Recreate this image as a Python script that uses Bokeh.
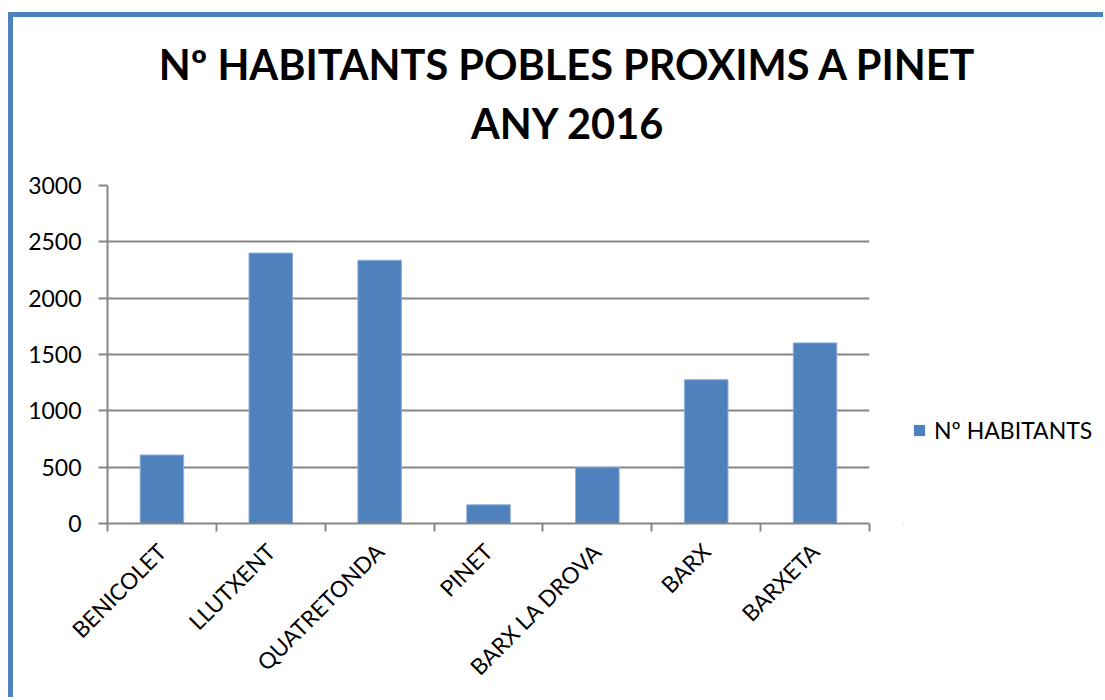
import math
from bokeh.plotting import figure
from bokeh.layouts import column, row
from bokeh.models import (Range1d, FixedTicker, CustomJSTickFormatter, Label,
                          Legend, LegendItem, ColumnDataSource)
from bokeh.embed import file_html
from bokeh.resources import INLINE

# ---- data ----
categories = ["BENICOLET", "LLUTXENT", "QUATRETONDA", "PINET",
              "BARX LA DROVA", "BARX", "BARXETA"]
habitants = [608, 2400, 2336, 166, 500, 1276, 1603]
series_name = "Nº HABITANTS"
title_line1 = "Nº HABITANTS POBLES PROXIMS A PINET"
title_line2 = "ANY 2016"
y_ticks = [0, 500, 1000, 1500, 2000, 2500, 3000]

n = len(categories)
centers = [i + 0.5 for i in range(n)]
bounds = list(range(n + 1))
source = ColumnDataSource(data=dict(x=centers, top=habitants, name=categories))

BLUE = "#4F81BD"
EDGE = "#8FAEDA"
GRAY = "#868686"
FONT = "Lato"

TOTAL_W = 1090
TITLE_H = 150
MAIN_W, MAIN_H = 890, 530
LEG_W = TOTAL_W - MAIN_W


def bare(fig):
    fig.outline_line_color = None
    fig.background_fill_color = "white"
    fig.border_fill_color = "white"
    fig.min_border = 0
    fig.min_border_left = fig.min_border_right = 0
    fig.min_border_top = fig.min_border_bottom = 0
    fig.grid.visible = False
    return fig


# ---- title panel ----
pt = bare(figure(width=TOTAL_W, height=TITLE_H, output_backend="svg",
                 toolbar_location=None, x_range=Range1d(0, TOTAL_W),
                 y_range=Range1d(0, TITLE_H), x_axis_location=None,
                 y_axis_location=None))
for txt, yb in ((title_line1, TITLE_H - 46), (title_line2, TITLE_H - 105)):
    pt.add_layout(Label(x=554.5, y=yb, text=txt, text_align="center",
                        text_baseline="alphabetic", text_font=FONT,
                        text_font_style="bold", text_font_size="41.5px",
                        text_color="black"))

# ---- main chart ----
p = figure(width=MAIN_W, height=MAIN_H, output_backend="svg",
           toolbar_location=None, x_range=Range1d(0, n),
           y_range=Range1d(0, 3000),
           min_border_left=94, min_border_top=18,
           min_border_right=34, min_border_bottom=174)
p.outline_line_color = None
p.background_fill_color = "white"
p.border_fill_color = "white"

p.vbar(x="x", top="top", width=0.4, source=source, fill_color=BLUE,
       line_color=EDGE, line_width=1)

xa = p.xaxis[0]
xa.ticker = FixedTicker(ticks=centers, minor_ticks=bounds)
xa.formatter = CustomJSTickFormatter(args=dict(labels=categories),
                                     code="return labels[Math.floor(tick)];")
xa.major_tick_out = 0
xa.major_tick_in = 0
xa.minor_tick_out = 8
xa.minor_tick_in = 0
xa.minor_tick_line_color = GRAY
xa.minor_tick_line_width = 2
xa.axis_line_color = GRAY
xa.axis_line_width = 2
xa.major_label_orientation = math.pi / 4
xa.major_label_standoff = 16
xa.major_label_text_font = FONT
xa.major_label_text_font_size = "22.5px"
xa.major_label_text_color = "black"

ya = p.yaxis[0]
ya.ticker = FixedTicker(ticks=y_ticks)
ya.minor_tick_line_color = None
ya.major_tick_out = 9
ya.major_tick_in = 0
ya.major_tick_line_color = GRAY
ya.major_tick_line_width = 2
ya.axis_line_color = GRAY
ya.axis_line_width = 2
ya.major_label_standoff = 17
ya.major_label_text_font = FONT
ya.major_label_text_font_size = "23px"
ya.major_label_text_color = "black"

p.xgrid.grid_line_color = None
p.ygrid.grid_line_color = GRAY
p.ygrid.grid_line_width = 2

# ---- legend panel (its bars are the same data, kept far out of view) ----
pl = bare(figure(width=LEG_W, height=MAIN_H, output_backend="svg",
                 toolbar_location=None, x_range=Range1d(1000, 1001),
                 y_range=Range1d(90000, 90001), x_axis_location=None,
                 y_axis_location=None))
swatch = pl.vbar(x="x", top="top", width=0.4, source=source, fill_color=BLUE,
                 line_color=None)
legend = Legend(items=[LegendItem(label=series_name, renderers=[swatch])],
                location=(9, 79), orientation="vertical",
                glyph_width=14, glyph_height=14, label_standoff=8,
                label_height=25, padding=0, margin=0, spacing=0,
                border_line_color=None, background_fill_alpha=0,
                label_text_font=FONT, label_text_font_size="23px",
                label_text_color="black")
pl.add_layout(legend)

layout = column(pt, row(p, pl, spacing=0), spacing=0)
layout.styles = {"border-left": "5px solid " + BLUE,
                 "border-top": "5px solid " + BLUE,
                 "margin-top": "12px", "margin-left": "8px"}

open("out.html", "w").write(file_html(layout, INLINE))
